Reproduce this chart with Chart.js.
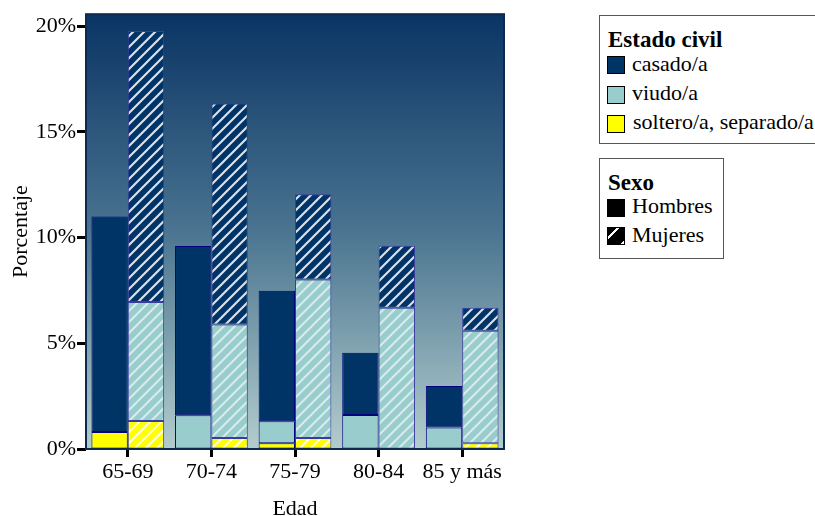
<!DOCTYPE html>
<html lang="es">
<head>
<meta charset="UTF-8">
<title>Estado civil por edad y sexo</title>
<script src="https://cdn.jsdelivr.net/npm/chart.js@4.4.1/dist/chart.umd.min.js"></script>
<style>
    body { margin: 0; width: 815px; height: 516px; overflow: hidden; background: #fff; font-family: "Liberation Serif", "Times New Roman", serif; }
    #wrap { position: absolute; left: 0; top: 0; width: 815px; height: 516px; }
    .box { position: absolute; border: 1px solid #555; background: #fff; box-sizing: border-box; }
    .lt { position: absolute; font-weight: bold; font-size: 23px; line-height: 23px; color: #000; white-space: nowrap; }
    .li { position: absolute; font-size: 22px; line-height: 22px; color: #000; white-space: nowrap; }
    .sw { position: absolute; width: 18px; height: 18px; border: 1px solid #000; box-sizing: border-box; }
</style>
</head>
<body>
<div id="wrap"><canvas id="chart" width="815" height="516"></canvas></div>

<div class="box" style="left:599px; top:15px; width:230px; height:129px;"></div>
<div class="lt" style="left:608px; top:28px;">Estado civil</div>
<div class="sw" style="left:607px; top:56px; background:#003366;"></div>
<div class="li" style="left:632px; top:53px;">casado/a</div>
<div class="sw" style="left:607px; top:86px; background:#99cccc;"></div>
<div class="li" style="left:632px; top:82px;">viudo/a</div>
<div class="sw" style="left:607px; top:115px; background:#ffff00;"></div>
<div class="li" style="left:633px; top:111px;">soltero/a, separado/a</div>

<div class="box" style="left:599px; top:158px; width:125px; height:101px;"></div>
<div class="lt" style="left:608px; top:171px;">Sexo</div>
<div class="sw" style="left:607px; top:199px; background:#000;"></div>
<div class="li" style="left:632px; top:195px;">Hombres</div>
<div class="sw" style="left:607px; top:227px; background:repeating-linear-gradient(135deg, #000 0 6px, #fff 6px 8px, #000 8px 14px);"></div>
<div class="li" style="left:632px; top:224px;">Mujeres</div>

<script>
    // data (% of population)
    var edades = ["65-69", "70-74", "75-79", "80-84", "85 y más"];
    var yTicks = [0, 5, 10, 15, 20];

    var hombresSoltero = [0.8, 0, 0.27, 0, 0];
    var hombresViudo   = [0, 1.6, 1.04, 1.61, 1.02];
    var hombresCasado  = [10.2, 8.0, 6.18, 2.94, 1.96];

    var mujeresSoltero = [1.33, 0.52, 0.52, 0, 0.27];
    var mujeresViudo   = [5.62, 5.37, 7.5, 6.68, 5.33];
    var mujeresCasado  = [12.83, 10.46, 4.03, 2.94, 1.08];

    var colCasado = "#003366";
    var colViudo = "#99cccc";
    var colSoltero = "#ffff00";
    var serif = "Liberation Serif";

    function hatch(base, alpha) {
        var c = document.createElement("canvas");
        c.width = 11; c.height = 11;
        var g = c.getContext("2d");
        g.fillStyle = base;
        g.fillRect(0, 0, 11, 11);
        g.strokeStyle = "rgba(255,255,255," + alpha + ")";
        g.lineWidth = 2.2;
        g.beginPath();
        g.moveTo(-2, 13); g.lineTo(13, -2);
        g.moveTo(-13, 13); g.lineTo(2, -2);
        g.moveTo(9, 13); g.lineTo(24, -2);
        g.stroke();
        return g.createPattern(c, "repeat");
    }

    function noZero(arr) {
        return arr.map(function (v) { return v === 0 ? null : v; });
    }

    function ds(label, data, bg, border, stack) {
        return {
            label: label,
            data: noZero(data),
            backgroundColor: bg,
            borderColor: border,
            borderWidth: 1,
            borderSkipped: false,
            stack: stack,
            barPercentage: 1,
            categoryPercentage: 0.87
        };
    }

    var plotBg = {
        id: "plotBg",
        beforeDraw: function (chart) {
            var a = chart.chartArea, ctx = chart.ctx;
            var grad = ctx.createLinearGradient(0, a.top, 0, a.bottom);
            grad.addColorStop(0, "#0a3464");
            grad.addColorStop(0.5, "#4a7490");
            grad.addColorStop(1, "#b3cdcd");
            ctx.save();
            ctx.fillStyle = grad;
            ctx.fillRect(a.left, a.top, a.right - a.left, a.bottom - a.top);
            ctx.restore();
        },
        afterDatasetsDraw: function (chart) {
            var a = chart.chartArea, ctx = chart.ctx;
            ctx.save();
            ctx.strokeStyle = "#0a2a50";
            ctx.lineWidth = 2;
            ctx.strokeRect(a.left, a.top, a.right - a.left, a.bottom - a.top);
            ctx.restore();
        }
    };

    new Chart(document.getElementById("chart"), {
        type: "bar",
        data: {
            labels: edades,
            datasets: [
                ds("soltero/a, separado/a - Hombres", hombresSoltero, colSoltero, "#000080", "H"),
                ds("viudo/a - Hombres", hombresViudo, colViudo, "#000080", "H"),
                ds("casado/a - Hombres", hombresCasado, colCasado, "#000080", "H"),
                ds("soltero/a, separado/a - Mujeres", mujeresSoltero, hatch(colSoltero, 0.85), "#3a3aa0", "M"),
                ds("viudo/a - Mujeres", mujeresViudo, hatch(colViudo, 0.6), "#3a3aa0", "M"),
                ds("casado/a - Mujeres", mujeresCasado, hatch(colCasado, 0.85), "#3a3aa0", "M")
            ]
        },
        options: {
            responsive: false,
            animation: false,
            layout: { padding: { top: 14, right: 311, left: 0, bottom: 0 } },
            plugins: {
                legend: { display: false },
                tooltip: { enabled: false }
            },
            scales: {
                x: {
                    stacked: true,
                    grid: { display: true, drawOnChartArea: false, offset: false, tickLength: 8, tickWidth: 3, color: "#000" },
                    border: { display: false },
                    ticks: { color: "#000", font: { family: serif, size: 22 }, padding: 2, maxRotation: 0 },
                    title: { display: true, text: "Edad", color: "#000", font: { family: serif, size: 22, lineHeight: 1 }, padding: { top: 0, bottom: -4 } },
                    afterFit: function (s) { s.height = 67; }
                },
                y: {
                    stacked: true,
                    min: 0,
                    max: 20.57,
                    grid: { display: true, drawOnChartArea: false, tickLength: 9, tickWidth: 3, color: "#000" },
                    border: { display: false },
                    afterBuildTicks: function (s) {
                        s.ticks = yTicks.map(function (v) { return { value: v }; });
                    },
                    ticks: {
                        color: "#000",
                        padding: 1,
                        font: { family: serif, size: 22 },
                        callback: function (v) { return v + "%"; }
                    },
                    title: { display: true, text: "Porcentaje", color: "#000", font: { family: serif, size: 22, lineHeight: 1 }, padding: { top: 10, bottom: 0 } },
                    afterFit: function (s) { s.width = 86; }
                }
            }
        },
        plugins: [plotBg]
    });
</script>
</body>
</html>
